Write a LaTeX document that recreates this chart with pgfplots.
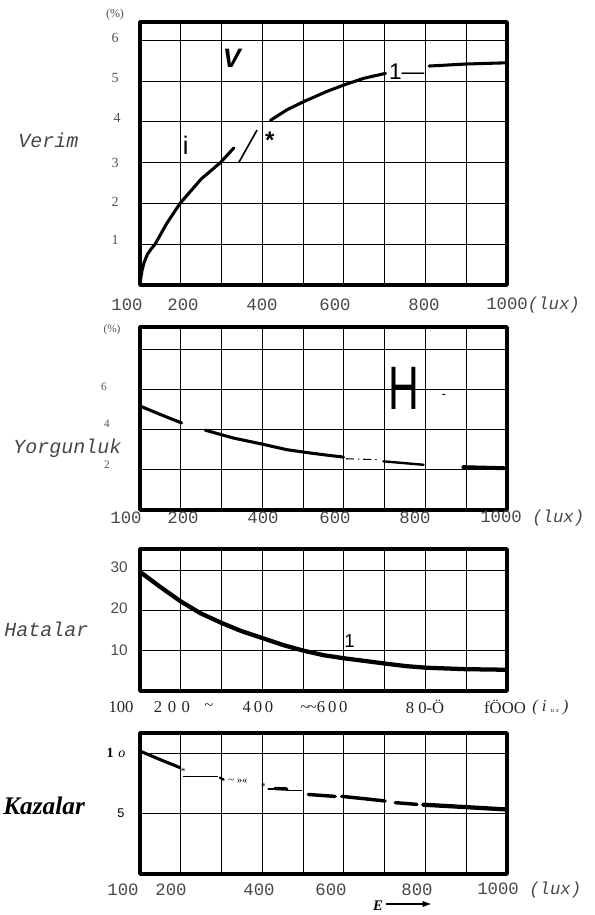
\documentclass[border=0pt]{standalone}
\usepackage{fontspec}
\setmainfont{Liberation Serif}
\newfontfamily\monof{Liberation Mono}
\newfontfamily\sansf{Liberation Sans}
\usepackage{pgfplots}
\pgfplotsset{compat=1.18}
\usetikzlibrary{arrows.meta}
\pgfplotsset{
 panel/.style={anchor=south west, scale only axis, width=275.25pt, xmin=100, xmax=1000,
   xtick={100,200,...,1000}, xticklabels={}, yticklabels={}, grid=major,
   major grid style={draw=black, line width=0.8pt},
   axis line style={line width=2.8pt, line join=round},
   major tick length=0pt, clip=false},
 curve/.style={black, line width=2.3pt, no marks, line cap=round},
 thin curve/.style={black, line width=1.0pt, no marks},
}
\begin{document}
\begin{tikzpicture}
\path[use as bounding box] (0,0) rectangle (446.25pt,-686.25pt);

% ---------- Panel 1: Verim ----------
\begin{axis}[panel, at={(105pt,-213.75pt)}, height=197.25pt, ymin=0, ymax=6.45, ytick={1,2,3,4,5,6}]
\addplot[curve] coordinates {(100,0) (102,0.18) (105,0.36) (110,0.55) (118,0.75) (127,0.88) (137,1.0) (165,1.5) (198,2.0) (250,2.6) (297,3.0) (330,3.36)};
\addplot[black, line width=1.2pt, no marks] coordinates {(342,3.0) (387,3.8)};
\addplot[curve] coordinates {(420,4.04) (461,4.3) (502,4.5) (559,4.75) (604,4.92) (649,5.07) (702,5.19)};
\addplot[curve] coordinates {(809,5.37) (900,5.42) (1000,5.45)};
\node[font=\sansf\bfseries\itshape\fontsize{20}{20}\selectfont] at (axis cs:325,5.57) {V};
\node[font=\sansf\fontsize{19}{19}\selectfont] at (axis cs:212,3.43) {i};
\node[font=\sansf\bfseries\fontsize{18}{18}\selectfont] at (axis cs:418,3.55) {*};
\node[font=\sansf\fontsize{17}{17}\selectfont, anchor=west, inner sep=0pt] at (axis cs:710,5.24) {1—};
\end{axis}

% ---------- Panel 2: Yorgunluk ----------
\begin{axis}[panel, at={(105pt,-382.5pt)}, height=137.25pt, ymin=0, ymax=9.1, ytick={2,4,6,8}]
\addplot[curve] coordinates {(100,5.17) (150,4.75) (202,4.33)};
\addplot[curve] coordinates {(260,3.97) (329,3.58) (399,3.28) (460,3.0) (501,2.88) (550,2.75) (599,2.63)};
\addplot[black, line width=0.8pt, no marks, dash pattern=on 6pt off 3pt on 1pt off 3pt] coordinates {(605,2.55) (690,2.5)};
\addplot[curve, line width=1.8pt] coordinates {(697,2.42) (795,2.25)};
\addplot[curve, line width=3pt] coordinates {(893,2.13) (992,2.08)};
\node[font=\sansf\fontsize{40}{40}\selectfont, xscale=0.8, yscale=1.15] at (axis cs:746,6.05) {H};
\node[font=\sansf\fontsize{10}{10}\selectfont] at (axis cs:845,5.65) {-};
\end{axis}

% ---------- Panel 3: Hatalar ----------
\begin{axis}[panel, at={(105pt,-518.25pt)}, height=106.5pt, ymin=0, ymax=35.4, ytick={10,20,30}]
\addplot[curve, line width=3.2pt] coordinates {(100,29.7) (149,26.0) (199,22.4) (248,19.4) (297,17.1) (347,15.0) (400,13.2) (453,11.4) (503,10.0) (552,8.9) (601,8.15) (651,7.5) (704,6.8) (753,6.2) (803,5.8) (897,5.45) (996,5.3)};
\node[font=\sansf\fontsize{14}{14}\selectfont] at (axis cs:614,12.5) {1};
\end{axis}

% ---------- Panel 4: Kazalar ----------
\begin{axis}[panel, at={(105pt,-655.5pt)}, height=105.75pt, ymin=0, ymax=11.7, ytick={5,10}]
\addplot[curve] coordinates {(100,10.2) (149,9.5) (198,8.83)};
\addplot[thin curve] coordinates {(206,8.1) (292,8.1)};
\addplot[curve, line width=1.8pt] coordinates {(296,8.0) (305,7.83)};
\addplot[curve, line width=1.6pt] coordinates {(415,7.03) (427,7.03)};
\addplot[curve, line width=2.6pt] coordinates {(431,7.1) (460,7.05)};
\addplot[thin curve] coordinates {(460,6.95) (497,6.95)};
\addplot[curve, line width=2.6pt] coordinates {(513,6.6) (578,6.44)};
\addplot[thin curve, dash pattern=on 1pt off 2pt] coordinates {(580,6.44) (594,6.44)};
\addplot[curve, line width=2.6pt] coordinates {(595,6.44) (650,6.25) (701,6.06)};
\addplot[curve, line width=2.6pt] coordinates {(726,5.92) (779,5.78)};
\addplot[curve, line width=3.2pt] coordinates {(795,5.75) (900,5.55) (996,5.36)};
\node[font=\fontsize{7}{7}\selectfont] at (axis cs:206,8.55) {*};
\node[font=\fontsize{8}{8}\selectfont] at (axis cs:340,7.72) {\textasciitilde\ »«};
\node[font=\fontsize{7}{7}\selectfont] at (axis cs:403,7.25) {*};
\end{axis}

% ---------- texts outside the axes ----------
\begin{scope}[x=0.75pt,y=-0.75pt]
\tikzset{mono/.style={font=\monof\fontsize{13}{13}\selectfont, text=black!72, inner sep=0pt},
  left/.style={font=\monof\itshape\fontsize{15}{15}\selectfont, text=black!72, anchor=west, inner sep=0pt},
  ytk/.style={font=\fontsize{10.5}{10.5}\selectfont, text=black!68, inner sep=0pt}}
% left labels
\node[left] at (18,140) {Verim};
\node[left] at (13,448) {Yorgunluk};
\node[left] at (4,629) {Hatalar};
\node[font=\bfseries\itshape\fontsize{19}{19}\selectfont, anchor=west, inner sep=0pt] at (3,806) {Kazalar};
% panel 1 y labels
\node[ytk, font=\fontsize{9}{9}\selectfont] at (115,15) {(\%)};
\node[ytk] at (115,38) {6};
\node[ytk] at (115,78) {5};
\node[ytk] at (117,118) {4};
\node[ytk] at (115,163) {3};
\node[ytk] at (115,202) {2};
\node[ytk] at (115,240) {1};
% panel 1 x labels
\node[mono] at (127,305) {100};
\node[mono] at (183,305) {200};
\node[mono] at (262,305) {400};
\node[mono] at (335,305) {600};
\node[mono] at (424,305) {800};
\node[mono, anchor=west] at (486,305) {1000\textit{(lux)}};
% panel 2 y labels
\node[ytk, font=\fontsize{8.5}{8.5}\selectfont] at (112,330) {(\%)};
\node[ytk, font=\fontsize{8.5}{8.5}\selectfont] at (104,387) {6};
\node[ytk, font=\fontsize{8.5}{8.5}\selectfont] at (107,424) {4};
\node[ytk, font=\fontsize{8.5}{8.5}\selectfont] at (107,465) {2};
% panel 2 x labels
\node[mono] at (126,518) {100};
\node[mono] at (183,518) {200};
\node[mono] at (263,518) {400};
\node[mono] at (335,518) {600};
\node[mono] at (415,518) {800};
\node[mono, anchor=west] at (480,518) {1000 \textit{(lux)}};
% panel 3 y labels
\node[font=\sansf\fontsize{11.5}{11.5}\selectfont, text=black!70, anchor=east, inner sep=0pt] at (128,567) {30};
\node[font=\sansf\fontsize{11.5}{11.5}\selectfont, text=black!70, anchor=east, inner sep=0pt] at (128,608) {20};
\node[font=\sansf\fontsize{11.5}{11.5}\selectfont, text=black!70, anchor=east, inner sep=0pt] at (128,650) {10};
% panel 3 x labels
\tikzset{ser/.style={font=\fontsize{12.5}{12.5}\selectfont, text=black!85, inner sep=0pt}}
\node[ser] at (121,707) {100};
\node[ser] at (172,707) {2\,\,0\,\,0};
\node[ser] at (209,707) {\textasciitilde};
\node[ser] at (258,707) {4\,0\,0};
\node[ser, anchor=west] at (300,707) {\textasciitilde\kern-1pt\textasciitilde6\,0\,0};
\node[ser] at (425,707) {8 0-Ö};
\node[ser] at (505,707) {fÖOO};
\node[ser, anchor=west] at (532,707) {\textit{( i} \raisebox{-1pt}{\tiny\itshape u  x} \textit{)}};
% panel 4 y labels
\node[font=\fontsize{10.5}{10.5}\selectfont, inner sep=0pt] at (116,753) {\textbf{1}\,\,\textit{o}};
\node[font=\sansf\fontsize{9.5}{9.5}\selectfont, inner sep=0pt] at (121,813) {5};
% panel 4 x labels
\node[mono] at (123,890) {100};
\node[mono] at (171,890) {200};
\node[mono] at (259,890) {400};
\node[mono] at (331,890) {600};
\node[mono] at (417,890) {800};
\node[mono, anchor=west] at (477,890) {1000 \textit{(lux)}};
% E arrow
\node[font=\bfseries\itshape\fontsize{11}{11}\selectfont, inner sep=0pt] at (378,906) {E};
\draw[-{Latex[length=7pt,width=5pt]}, line width=1.8pt] (386,904) -- (432,904);
\end{scope}
\end{tikzpicture}
\end{document}
